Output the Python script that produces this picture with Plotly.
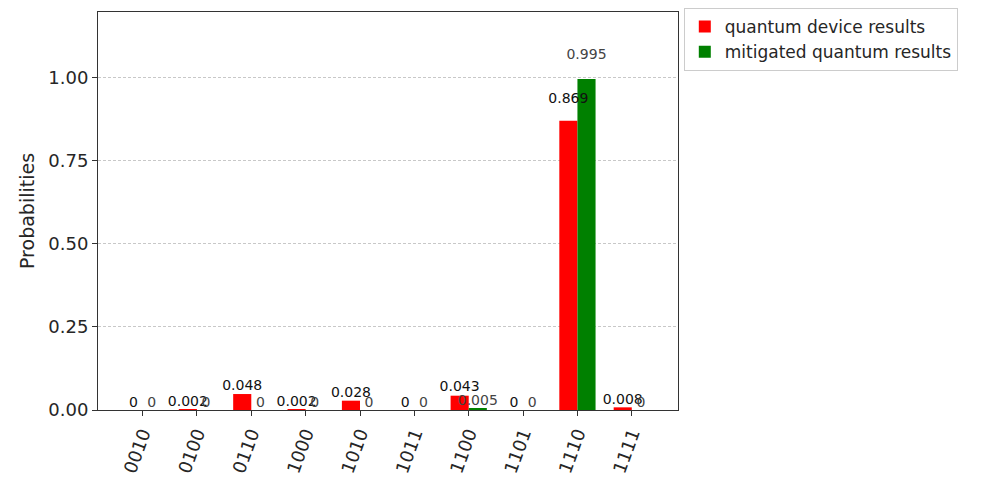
import plotly.graph_objects as go

states = ['0010', '0100', '0110', '1000', '1010', '1011', '1100', '1101', '1110', '1111']
device = [0, 0.002, 0.048, 0.002, 0.028, 0, 0.043, 0, 0.869, 0.008]
mitigated = [0, 0, 0, 0, 0, 0, 0.005, 0, 0.995, 0]
series_names = ['quantum device results', 'mitigated quantum results']
y_ticks = [0, 0.25, 0.5, 0.75, 1.0]

FONT = "DejaVu Sans"
width = 1 / 3
idx = list(range(len(states)))
x_dev = [i - width / 2 for i in idx]
x_mit = [i + width / 2 for i in idx]

def fmt(v):
    return format(v, 'g')

fig = go.Figure()
fig.add_trace(go.Bar(x=x_dev, y=device, width=width, name=series_names[0],
                     marker=dict(color='red', line=dict(width=0))))
fig.add_trace(go.Bar(x=x_mit, y=mitigated, width=width, name=series_names[1],
                     marker=dict(color='green', line=dict(width=0))))
fig.add_trace(go.Scatter(x=x_dev, y=[1.05 * v for v in device], mode='text',
                         text=[fmt(v) for v in device], textposition='top center',
                         textfont=dict(family=FONT, size=14, color='#111111'),
                         showlegend=False, hoverinfo='skip'))
fig.add_trace(go.Scatter(x=x_mit, y=[1.05 * v for v in mitigated], mode='text',
                         text=[fmt(v) for v in mitigated], textposition='top center',
                         textfont=dict(family=FONT, size=14, color='#444444'),
                         showlegend=False, hoverinfo='skip'))

fig.update_layout(
    width=990, height=478,
    margin=dict(l=98, r=312, t=8, b=68),
    paper_bgcolor='white', plot_bgcolor='white',
    barmode='overlay',
    font=dict(family=FONT, color='#262626'),
    legend=dict(x=1.01, y=1.01, xanchor='left', yanchor='top',
                bordercolor='#cccccc', borderwidth=1,
                font=dict(family=FONT, size=17, color='#262626'),
                bgcolor='white', tracegroupgap=4),
    showlegend=True,
)
fig.update_xaxes(range=[-0.82, 9.85], tickmode='array', tickvals=idx, ticktext=states,
                 tickangle=-70, tickfont=dict(size=18, color='#262626'),
                 showgrid=False, zeroline=False, automargin=False,
                 showline=True, linecolor='#333333', linewidth=1, mirror=True,
                 ticks='outside', ticklen=5, tickcolor='#333333')
fig.update_yaxes(range=[0, 1.196], tickmode='array', tickvals=y_ticks, tickformat='.2f',
                 tickfont=dict(size=18, color='#262626'),
                 title=dict(text='Probabilities', font=dict(size=19, color='#262626'), standoff=8),
                 showgrid=True, gridcolor='#c8c8c8', griddash='3px,2px', gridwidth=1,
                 zeroline=False, automargin=False,
                 showline=True, linecolor='#333333', linewidth=1, mirror=True,
                 ticks='outside', ticklen=5, tickcolor='#333333')

fig.write_html("out.html")
